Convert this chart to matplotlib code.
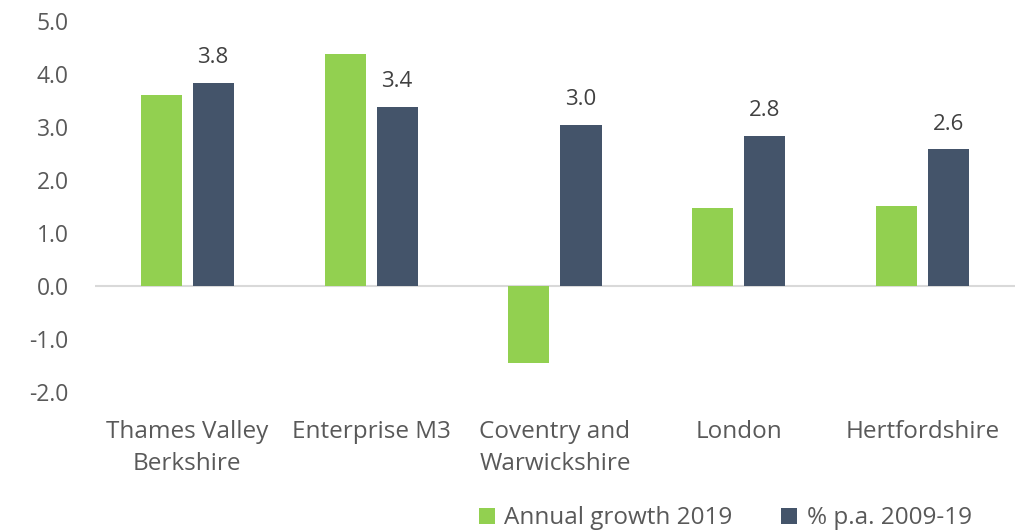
import numpy as np
import matplotlib
matplotlib.use("Agg")
import matplotlib.pyplot as plt

# Categories and series
regions = [
    "Thames Valley\nBerkshire",
    "Enterprise M3",
    "Coventry and\nWarwickshire",
    "London",
    "Hertfordshire",
]
annual_growth_2019 = [3.60, 4.38, -1.45, 1.48, 1.52]
pa_2009_19 = [3.84, 3.38, 3.04, 2.84, 2.58]
y_ticks = [-2.0, -1.0, 0.0, 1.0, 2.0, 3.0, 4.0, 5.0]

green = "#92D050"
navy = "#44546A"
grey = "#595959"

plt.rcParams["font.family"] = ["Open Sans", "DejaVu Sans"]

fig = plt.figure(figsize=(10.23, 5.31), dpi=100)
ax = fig.add_axes([0.093, 0.262, 0.899, 0.698])

x = np.arange(len(regions))
width = 0.223
gap = 0.06
b1 = ax.bar(x - (width + gap) / 2, annual_growth_2019, width, color=green,
            label="Annual growth 2019")
b2 = ax.bar(x + (width + gap) / 2, pa_2009_19, width, color=navy,
            label="% p.a. 2009-19")

# data labels on the long-run series
for rect, val in zip(b2, pa_2009_19):
    ax.annotate(f"{val:.1f}", (rect.get_x() + rect.get_width() / 2, val),
                xytext=(0, 10.5), textcoords="offset points",
                ha="center", va="bottom", fontsize=16, color="#404040")

ax.set_xlim(-0.5, len(regions) - 0.5)
ax.set_ylim(-2.0, 5.0)
ax.set_yticks(y_ticks)
ax.set_yticklabels([f"{v:.1f}" for v in y_ticks])
ax.set_xticks(x)
ax.set_xticklabels(regions, linespacing=1.45)

ax.axhline(0, color="#D9D9D9", linewidth=1.5, zorder=0)
for s in ax.spines.values():
    s.set_visible(False)
ax.tick_params(axis="y", length=0, pad=19, labelsize=16.5, labelcolor=grey)
ax.tick_params(axis="x", length=0, pad=20, labelsize=17.5, labelcolor=grey)

ax.legend(loc="center", bbox_to_anchor=(0.709, 0.024),
          bbox_transform=fig.transFigure, ncol=2, frameon=False,
          fontsize=17.5, labelcolor=grey, handlelength=0.65, handleheight=0.65,
          handletextpad=0.4, columnspacing=2.0)

fig.savefig("out.png", dpi=100)
